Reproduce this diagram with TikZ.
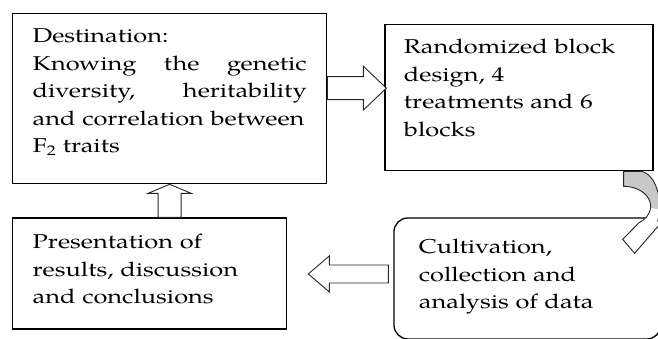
\documentclass[tikz,border=0pt]{standalone}
\usepackage{fontspec}
\setmainfont{TeX Gyre Pagella}[FakeStretch=1.27]
\usetikzlibrary{positioning}
\definecolor{bandgrey}{RGB}{200,200,200}

\begin{document}
\begin{tikzpicture}[x=1pt,y=1pt]

	\tikzstyle{every node}=[font=\fontsize{20}{27.5}\selectfont, align=left, inner ysep=0pt]
	\tikzstyle{box}=[draw, line width=1.3pt, anchor=north west]

	\useasboundingbox (0,0) rectangle (658,-338);

	\node[box, text width=274pt, inner xsep=20pt, text height=29pt, text depth=141pt] at (12,-13) (dest)
		{Destination:\\ Knowing\hfill the\hfill genetic\\ diversity,\hfill heritability\\ and correlation between\\ F\textsubscript{2} traits};
	\node[box, below right = 11pt and 57pt of dest.north east, text width=230pt, inner xsep=19pt, text height=29pt, text depth=117pt] (design)
		{Randomized block\\ design, 4\\ treatments and 6\\ blocks};
	\node[box, below = 33pt of dest.south west, anchor=north west, text width=234pt, inner xsep=20pt, text height=31pt, text depth=80pt] (present)
		{Presentation of\\ results, discussion\\ and conclusions};
	\node[box, rounded corners=14pt, right = 106pt of present.north east, anchor=north west, text width=217pt, inner xsep=25pt, text height=36pt, text depth=85pt] (cult)
		{Cultivation,\\ collection and\\ analysis of data};

	\tikzstyle{fat} = [draw=black!85, line width=0.9pt, fill=white]
	\draw[fat] ([yshift=22pt]dest.east) -- ++(36,0) -- ++(0,10.5) -- ++(23,-22) -- ++(-23,-22) -- ++(0,10.5) -- ++(-36,0) -- cycle;
	\draw[fat] ([xshift=21pt,yshift=-0.5pt]present.east) -- ++(21,18) -- ++(0,-9) -- ++(59,0) -- ++(0,-18) -- ++(-59,0) -- ++(0,-9) -- cycle;
	\draw[fat] (dest.south) -- ++(21.5,-9) -- ++(-10,0) -- ++(0,-24) -- ++(-23,0) -- ++(0,24) -- ++(-10,0) -- cycle;

	% bent arrow from design to cult
	\coordinate (bend) at ([xshift=-30pt]design.south east);
	\fill[white] (bend) -- ++(16,0) arc[start angle=90, end angle=-25, x radius=20, y radius=35] -- ++(2.9,-2.2) -- ++(-26,-30) -- ++(-12,14) -- ++(16.5,16.6) arc[start angle=-55, end angle=90, x radius=27, y radius=20] -- cycle;
	\fill[bandgrey] (bend) -- ++(16,0) arc[start angle=90, end angle=-5, x radius=20, y radius=35] -- ++(-9,1.3) arc[start angle=-5, end angle=90, x radius=27, y radius=20] -- cycle;
	\draw[fat, fill=none] (bend) -- ++(16,0) arc[start angle=90, end angle=-25, x radius=20, y radius=35] -- ++(2.9,-2.2) -- ++(-26,-30) -- ++(-12,14) -- ++(16.5,16.6) arc[start angle=-55, end angle=90, x radius=27, y radius=20] -- cycle;

\end{tikzpicture}
\end{document}
